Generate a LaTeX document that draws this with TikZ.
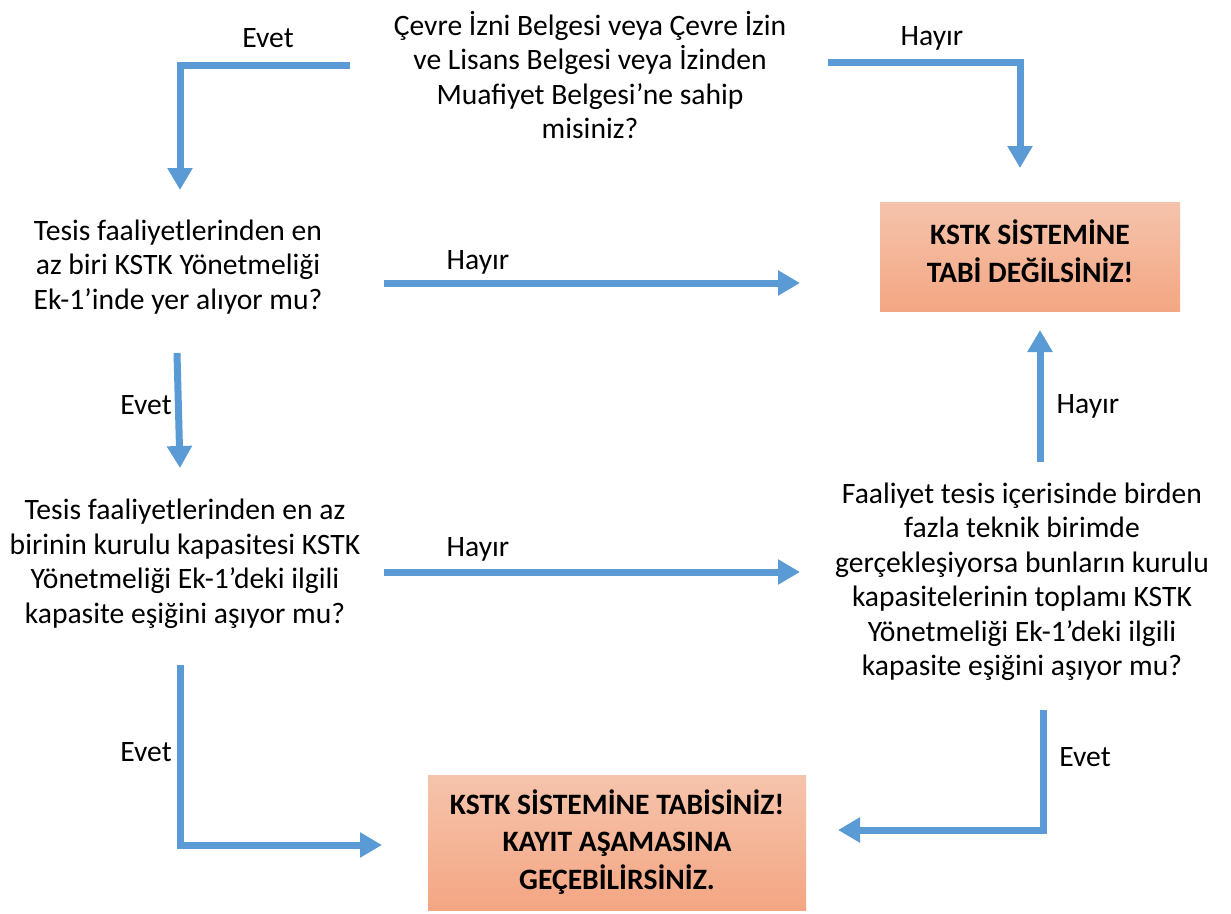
\documentclass[tikz,border=0pt]{standalone}
\usepackage{fontspec}
\setmainfont{Carlito}
\usetikzlibrary{arrows.meta}
\definecolor{arrowblue}{RGB}{91,155,213}
\definecolor{boxtop}{RGB}{245,196,172}
\definecolor{boxbot}{RGB}{244,166,131}
\begin{document}
\begin{tikzpicture}[x=1pt,y=-1pt,
  qtext/.style={align=center,font=\fontsize{29.6}{34.5}\selectfont,inner sep=0pt},
  lbl/.style={font=\fontsize{29.6}{34}\selectfont,inner sep=0pt},
  boxshade/.style={top color=boxtop,bottom color=boxbot,draw=none},
  boxtext/.style={align=center,font=\fontsize{29.6}{37.5}\selectfont\bfseries,inner sep=0pt},
  flow/.style={draw=arrowblue,line width=7pt,-{Triangle[width=24pt,length=22pt]}}
]
\useasboundingbox (0,0) rectangle (1231,913);
% nodes
\node[qtext] (q1) at (590,75) {Çevre İzni Belgesi veya Çevre İzin\\ve Lisans Belgesi veya İzinden\\Muafiyet Belgesi’ne sahip\\misiniz?};
\node[qtext] (q2) at (178,267) {Tesis faaliyetlerinden en\\az biri KSTK Yönetmeliği\\Ek-1’inde yer alıyor mu?};
\node[qtext] (q3) at (185,564) {Tesis faaliyetlerinden en az\\birinin kurulu kapasitesi KSTK\\Yönetmeliği Ek-1’deki ilgili\\kapasite eşiğini aşıyor mu?};
\node[qtext] (q4) at (1022,582) {Faaliyet tesis içerisinde birden\\fazla teknik birimde\\gerçekleşiyorsa bunların kurulu\\kapasitelerinin toplamı KSTK\\Yönetmeliği Ek-1’deki ilgili\\kapasite eşiğini aşıyor mu?};
\path[boxshade] (880,202) rectangle (1180,311);
\node[boxtext] (r1) at (1030,251) {KSTK SİSTEMİNE\\TABİ DEĞİLSİNİZ!};
\path[boxshade] (428,775) rectangle (806,910);
\node[boxtext] (r2) at (617,842) {KSTK SİSTEMİNE TABİSİNİZ!\\KAYIT AŞAMASINA\\GEÇEBİLİRSİNİZ.};
% coordinates
\coordinate (a1s) at (350,65);
\coordinate (a1c) at (180,65);
\coordinate (a1e) at (180,190);
\coordinate (a2s) at (828,62);
\coordinate (a2c) at (1020,62);
\coordinate (a2e) at (1020,168);
\coordinate (a3s) at (384,283);
\coordinate (a3e) at (800,283);
\coordinate (a4s) at (177,353);
\coordinate (a4e) at (180,468);
\coordinate (a5s) at (384,572);
\coordinate (a5e) at (800,572);
\coordinate (a6s) at (1040,462);
\coordinate (a6e) at (1040,330);
\coordinate (a7s) at (180,665);
\coordinate (a7c) at (180,845);
\coordinate (a7e) at (382,845);
\coordinate (a8s) at (1043,710);
\coordinate (a8c) at (1043,830);
\coordinate (a8e) at (838,830);
% connectors
\draw[flow] (a1s) -- (a1c) -- (a1e);
\draw[flow] (a2s) -- (a2c) -- (a2e);
\draw[flow] (a3s) -- (a3e);
\draw[flow] (a4s) -- (a4e);
\draw[flow] (a5s) -- (a5e);
\draw[flow] (a6s) -- (a6e);
\draw[flow] (a7s) -- (a7c) -- (a7e);
\draw[flow] (a8s) -- (a8c) -- (a8e);
% labels
\node[lbl] (l1) at (268,38) {Evet};
\node[lbl] (l2) at (932,38) {Hayır};
\node[lbl] (l3) at (478,262) {Hayır};
\node[lbl] (l4) at (146,405) {Evet};
\node[lbl] (l5) at (478,549) {Hayır};
\node[lbl] (l6) at (1088,406) {Hayır};
\node[lbl] (l7) at (146,752) {Evet};
\node[lbl] (l8) at (1085,757) {Evet};
\end{tikzpicture}
\end{document}
